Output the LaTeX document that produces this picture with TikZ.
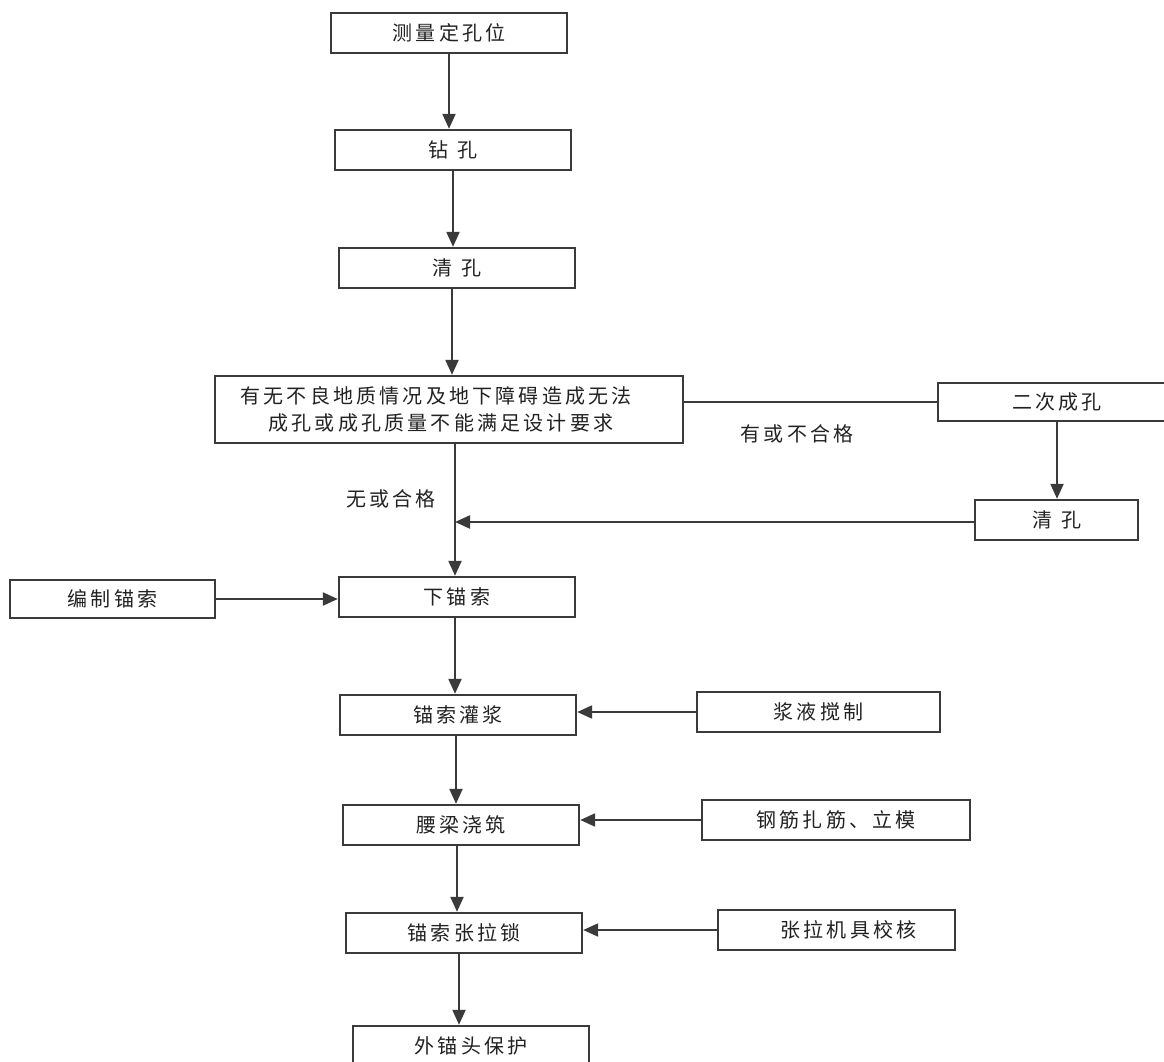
\documentclass[tikz,border=0pt]{standalone}
\usepackage{fontspec}
\setmainfont{Noto Sans CJK SC}[LetterSpace=16]
\usetikzlibrary{arrows.meta,positioning}
\definecolor{ln}{HTML}{3A3A3A}
\definecolor{tx}{HTML}{222222}
\begin{document}
\begin{tikzpicture}[x=1pt,y=-1pt,
  bx/.style={draw=ln,line width=2.4pt,minimum height=40pt,inner sep=0pt,text=tx,
     font=\fontsize{20}{27}\selectfont,fill=white},
  lbl/.style={text=tx,font=\fontsize{20}{24}\selectfont,inner sep=0pt},
  con/.style={draw=ln,line width=2.2pt},
  arr/.style={con,-{Triangle[length=15pt,width=13pt]}}]
\useasboundingbox (0,0) rectangle (1164,1062);
% main column
\node[bx,minimum width=236pt] (a) at (449,33) {测量定孔位};
\node[bx,minimum width=236pt] (b) at (453,150) {钻\hspace{9pt}孔};
\node[bx,minimum width=236pt] (c) at (457,268) {清\hspace{9pt}孔};
\node[bx,minimum width=468pt,minimum height=67pt,align=center] (d) at (449,409.5)
  {有无不良地质情况及地下障碍造成无法\hspace*{26pt}\\成孔或成孔质量不能满足设计要求\hspace*{16pt}};
\node[bx,minimum width=236pt] (e) at (457,597) {下锚索};
\node[bx,minimum width=236pt] (f) at (458,715) {锚索灌浆};
\node[bx,minimum width=236pt] (g) at (461,825) {腰梁浇筑};
\node[bx,minimum width=236pt] (h) at (464,933) {锚索张拉锁};
\node[bx,minimum width=236pt] (i) at (471,1046) {外锚头保护};
% right branch
\node[bx,minimum width=238pt,minimum height=38pt] (r1) at (1057,402) {二次成孔};
\node[bx,minimum width=163pt] (r2) at (1056.5,520) {清\hspace{9pt}孔};
% side inputs
\node[bx,minimum width=205pt,minimum height=38pt] (s0) at (112.5,599) {编制锚索};
\node[bx,minimum width=243pt] (s1) at (818.5,712) {浆液搅制};
\node[bx,minimum width=268pt] (s2) at (836,820) {钢筋扎筋、立模};
\node[bx,minimum width=237pt] (s3) at (836.5,930) {\hspace*{24pt}张拉机具校核};
% labels
\node[lbl] (l1) at (797,434) {有或不合格};
\node[lbl] (l2) at (391,499) {无或合格};
% connectors
\draw[arr] (a.south) -- (a.south |- b.north);
\draw[arr] (b.south) -- (b.south |- c.north);
\draw[arr] (c.south -| 452,0) -- (452,0 |- d.north);
\draw[con] (d.east |- r1.west) -- (r1.west);
\draw[arr] (r1.south) -- (r1.south |- r2.north);
\coordinate (m) at (455,522);
\draw[arr] (455,0 |- d.south) -- (455,0 |- e.north);
\draw[arr] (r2.west |- m) -- (m);
\draw[arr] (s0.east) -- (s0.east -| e.west);
\draw[arr] (e.south -| 455,0) -- (455,0 |- f.north);
\draw[arr] (s1.west) -- (s1.west -| f.east);
\draw[arr] (f.south -| 456,0) -- (456,0 |- g.north);
\draw[arr] (s2.west) -- (s2.west -| g.east);
\draw[arr] (g.south -| 457,0) -- (457,0 |- h.north);
\draw[arr] (s3.west) -- (s3.west -| h.east);
\draw[arr] (h.south -| 459,0) -- (459,0 |- i.north);
\end{tikzpicture}
\end{document}
